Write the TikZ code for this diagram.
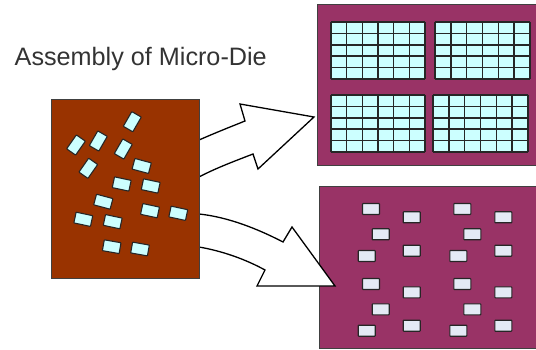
\documentclass[tikz,border=0pt]{standalone}
\usepackage{fontspec}
\newfontfamily\labelfont{Liberation Sans}
\definecolor{diebrown}{HTML}{993300}
\definecolor{waferpurple}{HTML}{993366}
\definecolor{diecyan}{HTML}{CCFFFF}
\definecolor{padgray}{HTML}{E4EAF5}
\tikzset{
  wafer/.style={draw=black!75, line width=1pt},
  chip/.style={fill=diecyan, draw=black!85, line width=1.1pt, minimum width=17pt, minimum height=11pt, inner sep=0pt, rounded corners=0.6pt},
  pad/.style={fill=padgray, draw=black!85, line width=1.1pt, minimum width=17pt, minimum height=11pt, inner sep=0pt, rounded corners=0.6pt},
  gridline/.style={draw=black!85, line width=1.5pt},
  blockarrow/.style={fill=white, draw=black, line width=1.3pt, line join=miter}
}
\begin{document}
\begin{tikzpicture}[x=1pt, y=-1pt]
\useasboundingbox (0,0) rectangle (536,350);

% title
\node[anchor=base west, inner sep=0pt, text=black!80, font=\labelfont\fontsize{25.2}{30}\selectfont] (title) at (14.5,65.7) {Assembly of Micro-Die};

% target wafers
\draw[wafer, fill=waferpurple] (317,5) rectangle (545,166);
\draw[wafer, fill=waferpurple] (319,187) rectangle (545,348);

% arrays on the upper wafer
\foreach \gx/\gy/\gw in {331/22/94, 435/22/95, 331/95/94, 433/95/95} {
  \fill[diecyan] (\gx,\gy) rectangle ++(\gw,57);
  \foreach \i in {0,...,6} \draw[gridline] ({\gx+\i*\gw/6},\gy) -- ++(0,57);
  \foreach \j in {0,...,5} \draw[gridline] (\gx,{\gy+\j*11.4}) -- ++(\gw,0);
}

% spread dies on the lower wafer
\foreach \x/\y [count=\n] in {371/209, 411.7/217.3, 462.3/209, 503.3/217.3,
    380.7/234.3, 472.3/234.3,
    366.7/256, 411.7/250.7, 458.3/256, 503.3/250.7,
    371/284, 411.7/292.3, 462.3/284, 503.3/292.3,
    380.7/309.3, 472.3/309.3,
    366.7/330.7, 411.7/325.7, 458.3/330.7, 503.3/325.7}
  \node[pad] (p\n) at (\x,\y) {};

% arrows
\draw[blockarrow] (199,140) .. controls (215,133) and (230,127) .. (245,121)
  -- (240,104) -- (314,117) -- (258,169) -- (253,154)
  .. controls (235,161) and (216,168) .. (199,177) -- cycle;
\draw[blockarrow] (199,214) .. controls (228,217) and (258,229) .. (283,242)
  -- (292,227) -- (335,286) -- (257,286) -- (265,270)
  .. controls (245,259) and (222,251) .. (199,247) -- cycle;

% source wafer
\draw[wafer, fill=diebrown] (51,100) rectangle (199,278);
\foreach \x/\y/\a [count=\n] in {132.3/121.7/60, 76/145/55, 98.3/141/60, 123.3/149/60,
    88.3/168.3/55, 141.7/166/-15, 121.7/184/-12, 150.7/186/-12,
    103.3/201.7/-15, 150/210.7/-12, 178.3/213.3/-12, 83.3/219.3/-12,
    112.7/221.7/-12, 111.7/246.7/-10, 140/249/-10}
  \node[chip, rotate=\a] (c\n) at (\x,\y) {};

\end{tikzpicture}
\end{document}
